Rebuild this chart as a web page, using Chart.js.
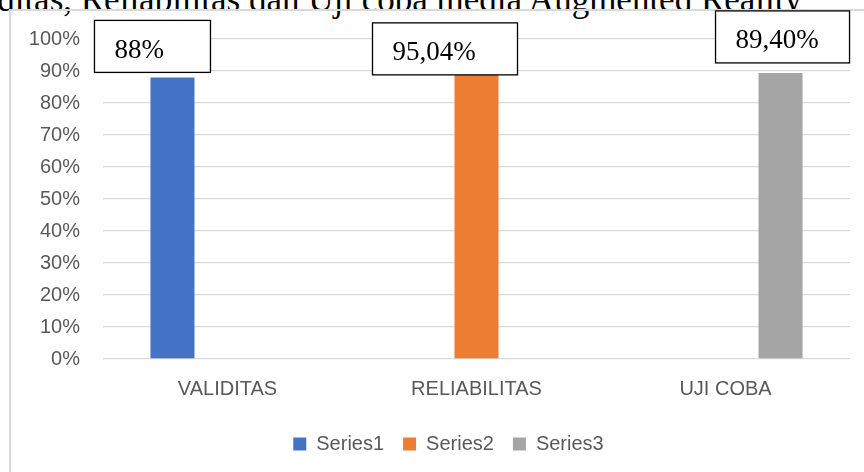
<!DOCTYPE html>
<html>
<head>
<meta charset="utf-8">
<script src="https://cdn.jsdelivr.net/npm/chart.js@4.4.0/dist/chart.umd.min.js"></script>
<style>
  html, body { margin: 0; padding: 0; background: #fff; }
  #wrap { position: relative; width: 864px; height: 472px; overflow: hidden; }
  #title {
    position: absolute; right: 62px; top: -18px;
    font-family: "Liberation Serif", serif; font-size: 35px; line-height: 35px;
    white-space: nowrap; color: #000;
  }
  #frame {
    position: absolute; left: 9px; top: 9px; width: 900px; height: 500px;
    border: 2px solid #d9d9d9;
  }
  canvas { position: absolute; left: 0; top: 0; }
</style>
</head>
<body>
<div id="wrap">
  <div id="title">Validitas, Reliabilitas dan Uji coba media Augmented Reality</div>
  <div id="frame"></div>
  <canvas id="chart" width="864" height="472"></canvas>
</div>
<script>
const categories = ['VALIDITAS', 'RELIABILITAS', 'UJI COBA'];
const seriesNames = ['Series1', 'Series2', 'Series3'];
const seriesColors = ['#4472c4', '#ed7d31', '#a5a5a5'];
// each series only has a value in its own category
const series1 = [88, null, null];
const series2 = [null, 95.04, null];
const series3 = [null, null, 89.4];
const yTicks = [0, 10, 20, 30, 40, 50, 60, 70, 80, 90, 100];

const allSeries = [series1, series2, series3];

// label boxes were dragged around in the original, offsets relative to the bar
const labelBoxes = [
    { dx: -20, dy: -57, w: 116 },
    { dx: -31.5, dy: -32, w: 145 },
    { dx: 2, dy: -62, w: 134 }
];

function fmt(v) {
    return Number.isInteger(v) ? v + '%' : v.toFixed(2).replace('.', ',') + '%';
}

const boxLabels = {
    id: 'boxLabels',
    afterLayout(chart) {
        // legend sits a bit right of the page centre in the original
        chart.legend.left += 47;
    },
    afterDatasetsDraw(chart) {
        const ctx = chart.ctx;
        ctx.save();
        chart.data.datasets.forEach((ds, i) => {
            const idx = ds.data.findIndex(v => v !== null);
            const bar = chart.getDatasetMeta(i).data[idx];
            const b = labelBoxes[i];
            const left = bar.x + b.dx - b.w / 2;
            const top = bar.y + b.dy;
            ctx.fillStyle = '#fff';
            ctx.fillRect(left, top, b.w, 52);
            ctx.strokeStyle = '#000';
            ctx.lineWidth = 1.3;
            ctx.strokeRect(left, top, b.w, 52);
            ctx.fillStyle = '#000';
            ctx.font = '27px "Liberation Serif"';
            ctx.textAlign = 'left';
            ctx.textBaseline = 'alphabetic';
            ctx.fillText(fmt(ds.data[idx]), left + 20, top + 37.5);
        });
        ctx.restore();
    }
};

const ctx = document.getElementById('chart').getContext('2d');
new Chart(ctx, {
    type: 'bar',
    data: {
        labels: categories,
        datasets: allSeries.map((d, i) => ({
            label: seriesNames[i],
            data: d,
            backgroundColor: seriesColors[i],
            categoryPercentage: 0.663,
            barPercentage: 0.8
        }))
    },
    options: {
        responsive: false,
        animation: false,
        layout: { padding: { left: 0, right: 14, top: 39, bottom: 8 } },
        scales: {
            x: {
                grid: { display: false },
                border: { display: false },
                ticks: { color: '#595959', padding: 10, font: { family: 'Liberation Sans', size: 20 } },
                afterFit(scale) { scale.height = 56; }
            },
            y: {
                min: 0,
                max: 100,
                afterBuildTicks(scale) { scale.ticks = yTicks.map(v => ({ value: v })); },
                grid: { color: '#d9d9d9', lineWidth: 1.3, drawTicks: false },
                border: { display: false },
                ticks: {
                    color: '#595959', padding: 23,
                    font: { family: 'Liberation Sans', size: 20 },
                    callback: v => v + '%'
                },
                afterFit(scale) { scale.width = 103; }
            }
        },
        plugins: {
            legend: {
                position: 'bottom',
                labels: {
                    boxWidth: 13, boxHeight: 13, padding: 19,
                    color: '#595959',
                    font: { family: 'Liberation Sans', size: 20 }
                }
            },
            tooltip: { enabled: false }
        }
    },
    plugins: [boxLabels]
});
</script>
</body>
</html>
